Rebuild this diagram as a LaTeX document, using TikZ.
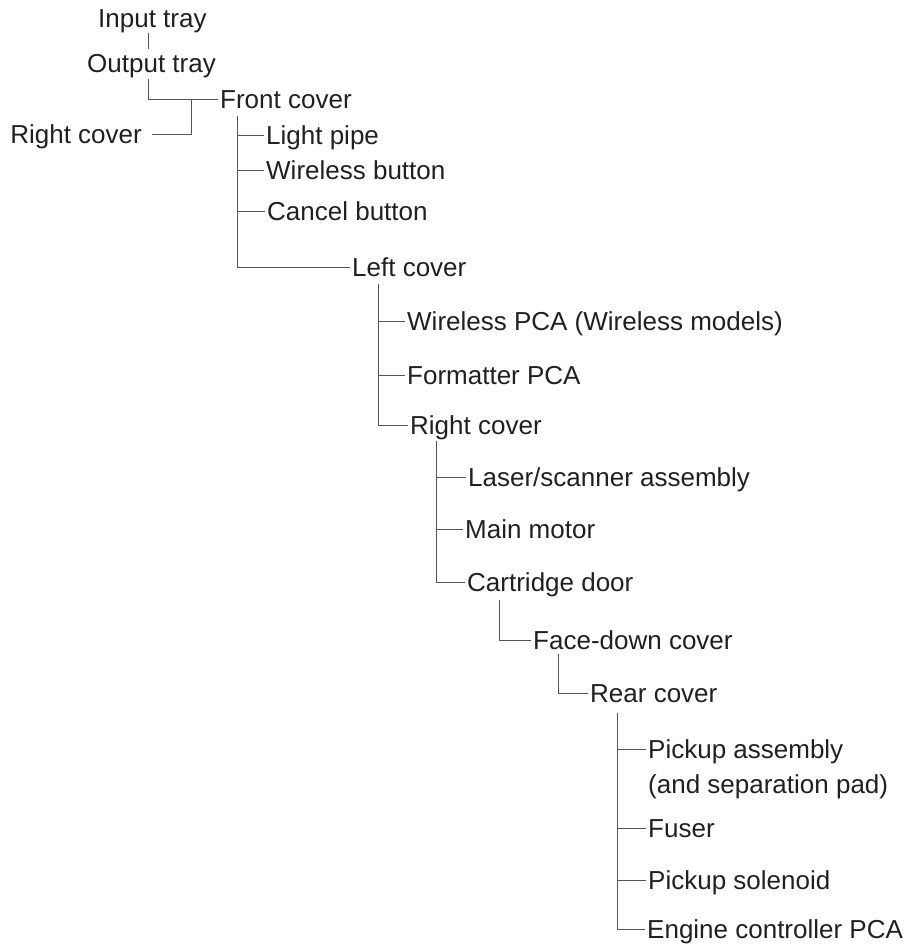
\documentclass[tikz,border=0pt]{standalone}
\usepackage{fontspec}
\setmainfont{Liberation Sans}
\definecolor{txt}{HTML}{231F20}
\definecolor{ln}{HTML}{555555}
\begin{document}
\begin{tikzpicture}[x=1pt,y=-1pt,
  lbl/.style={anchor=west,inner xsep=2.5pt,inner ysep=0pt,text height=18.6pt,text depth=0pt,
    font=\fontsize{26}{31}\selectfont,text=txt},
  conn/.style={draw=ln,line width=1pt}]
\useasboundingbox (0,0) rectangle (914,945);
% trunk x positions
\coordinate (t0) at (148,0);
\coordinate (t1) at (191,0);
\coordinate (t2) at (237,0);
\coordinate (t3) at (378,0);
\coordinate (t4) at (436,0);
\coordinate (t5) at (499,0);
\coordinate (t6) at (558,0);
\coordinate (t7) at (617,0);
% nodes
\node[lbl] (in)    at (95.5,18)   {Input tray};
\node[lbl] (out)   at (84.5,63)   {Output tray};
\node[lbl] (front) at (217.5,99)  {Front cover};
\node[lbl,anchor=east,inner xsep=10pt] (rcL) at (152,134) {Right cover};
\node[lbl] (light) at (263.5,135) {Light pipe};
\node[lbl] (wbtn)  at (263.5,170) {Wireless button};
\node[lbl] (cbtn)  at (264.5,211) {Cancel button};
\node[lbl] (left)  at (349.5,267) {Left cover};
\node[lbl] (wpca)  at (404.5,321) {Wireless PCA (Wireless models)};
\node[lbl] (fpca)  at (404.5,375) {Formatter PCA};
\node[lbl] (rc2)   at (407.5,425) {Right cover};
\node[lbl] (laser) at (465.5,477) {Laser/scanner assembly};
\node[lbl] (motor) at (462.5,529) {Main motor};
\node[lbl] (cdoor) at (464.5,582) {Cartridge door};
\node[lbl] (face)  at (530.5,640) {Face-down cover};
\node[lbl] (rear)  at (587.5,693) {Rear cover};
\node[lbl] (pick1) at (645.5,749) {Pickup assembly};
\node[lbl,anchor=base west] (pick2) at ([yshift=-35pt]pick1.base west) {(and separation pad)};
\node[lbl] (fuser) at (645.5,828) {Fuser};
\node[lbl] (sol)   at (645.5,880) {Pickup solenoid};
\node[lbl] (eng)   at (644.5,929) {Engine controller PCA};
% connectors
\draw[conn] ([yshift=-5pt]in.south -| t0) -- ([yshift=5pt]out.north -| t0);
\draw[conn] ([yshift=-6pt]out.south -| t0) |- (front.west);
\draw[conn] (rcL.east) -| (front.west -| t1);
\draw[conn] ([yshift=-7pt]front.south -| t2) |- (left.west);
\draw[conn] (light.west -| t2) -- (light.west);
\draw[conn] (wbtn.west -| t2) -- (wbtn.west);
\draw[conn] (cbtn.west -| t2) -- (cbtn.west);
\draw[conn] ([yshift=-7pt]left.south -| t3) |- (rc2.west);
\draw[conn] (wpca.west -| t3) -- (wpca.west);
\draw[conn] (fpca.west -| t3) -- (fpca.west);
\draw[conn] ([yshift=-6pt]rc2.south -| t4) |- (cdoor.west);
\draw[conn] (laser.west -| t4) -- (laser.west);
\draw[conn] (motor.west -| t4) -- (motor.west);
\draw[conn] ([yshift=-8pt]cdoor.south -| t5) |- (face.west);
\draw[conn] ([yshift=-4pt]face.south -| t6) |- (rear.west);
\draw[conn] ([yshift=-10pt]rear.south -| t7) |- (eng.west);
\draw[conn] (pick1.west -| t7) -- (pick1.west);
\draw[conn] (fuser.west -| t7) -- (fuser.west);
\draw[conn] (sol.west -| t7) -- (sol.west);
\end{tikzpicture}
\end{document}
